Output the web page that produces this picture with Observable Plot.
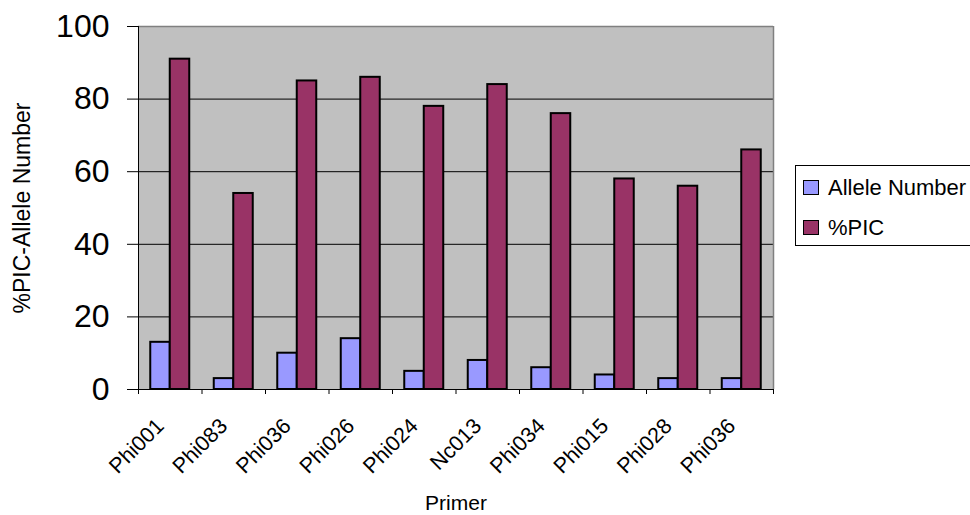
<!DOCTYPE html>
<html>
<head>
<meta charset="utf-8">
<script src="https://cdn.jsdelivr.net/npm/d3@7"></script>
<script src="https://cdn.jsdelivr.net/npm/@observablehq/plot@0.6"></script>
<style>
  html, body { margin: 0; padding: 0; background: #fff; overflow: hidden; }
  #wrap { position: relative; width: 970px; height: 515px; font-family: "Liberation Sans", Arial, sans-serif; }
  #legend { position: absolute; left: 795px; top: 165px; width: 190px; height: 81px; border: 1px solid #000; background: #fff; box-sizing: border-box; }
  .sw { position: absolute; left: 7px; width: 16px; height: 15px; border: 1.5px solid #000; box-sizing: border-box; }
  .lt { position: absolute; left: 32px; font-size: 22px; line-height: 22px; color: #000; white-space: nowrap; }
</style>
</head>
<body>
<div id="wrap"></div>
<script>
const primers = ["Phi001", "Phi083", "Phi036", "Phi026", "Phi024", "Nc013", "Phi034", "Phi015", "Phi028", "Phi036"];
const alleleNumber = [13, 3, 10, 14, 5, 8, 6, 4, 3, 3];
const picPercent = [91, 54, 85, 86, 78, 84, 76, 58, 56, 66];
const yTicks = [0, 20, 40, 60, 80, 100];
const gridValues = [20, 40, 60, 80];
const seriesNames = ["Allele Number", "%PIC"];
const seriesColors = ["#9999FF", "#993366"];
const xTitle = "Primer";
const yTitle = "%PIC-Allele Number";

const rows = primers.map((p, i) => ({i, primer: p, allele: alleleNumber[i], pic: picPercent[i]}));
const boundaries = d3.range(primers.length + 1);

const chart = Plot.plot({
  width: 970,
  height: 515,
  marginLeft: 138,
  marginRight: 197,
  marginTop: 26,
  marginBottom: 126,
  style: {fontFamily: "'Liberation Sans', Arial, sans-serif", background: "transparent", color: "#000"},
  x: {domain: [0, primers.length]},
  y: {domain: [0, 100]},
  marks: [
    Plot.frame({fill: "#C0C0C0"}),
    Plot.ruleY(gridValues, {stroke: "#000", strokeWidth: 1}),
    Plot.rectY(rows, {x1: "i", x2: d => d.i + 1, y: "allele", fill: seriesColors[0], stroke: "#000", strokeWidth: 2, insetLeft: 12.25, insetRight: 31.75}),
    Plot.rectY(rows, {x1: "i", x2: d => d.i + 1, y: "pic", fill: seriesColors[1], stroke: "#000", strokeWidth: 2, insetLeft: 31.75, insetRight: 12.25}),
    Plot.ruleY([100], {stroke: "#808080", strokeWidth: 1.5}),
    Plot.ruleX([primers.length], {stroke: "#808080", strokeWidth: 1.5}),
    Plot.ruleX([0], {stroke: "#000", strokeWidth: 1}),
    Plot.ruleY([0], {stroke: "#000", strokeWidth: 1}),
    Plot.axisY({ticks: yTicks, tickSize: 11, tickPadding: 18, fontSize: 32, label: null, tickFormat: d => String(d)}),
    Plot.axisX({ticks: boundaries, tickSize: 5, tickFormat: () => "", label: null}),
    Plot.text(rows, {x: d => d.i + 0.5, y: () => 0, text: "primer", rotate: -45, textAnchor: "end", lineAnchor: "middle",
      dx: -10, dy: 33, fontSize: 21.5}),
    Plot.text([yTitle], {text: d => d, frameAnchor: "left", textAnchor: "middle", lineAnchor: "middle", rotate: -90, dx: -116, fontSize: 23}),
    Plot.text([xTitle], {text: d => d, frameAnchor: "bottom", dy: 120, lineAnchor: "bottom", fontSize: 21})
  ]
});

const wrap = document.getElementById("wrap");
wrap.appendChild(chart);

const legend = document.createElement("div");
legend.id = "legend";
seriesNames.forEach((name, k) => {
  const sw = document.createElement("div");
  sw.className = "sw";
  sw.style.top = (14 + k * 40) + "px";
  sw.style.background = seriesColors[k];
  const t = document.createElement("div");
  t.className = "lt";
  t.style.top = (11 + k * 40) + "px";
  t.textContent = name;
  legend.appendChild(sw);
  legend.appendChild(t);
});
wrap.appendChild(legend);
</script>
</body>
</html>
